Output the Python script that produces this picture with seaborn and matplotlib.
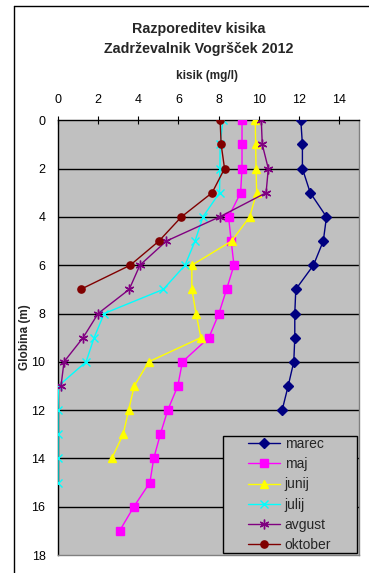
import matplotlib
matplotlib.use("Agg")
import matplotlib.pyplot as plt
from matplotlib.patches import Rectangle
from matplotlib.lines import Line2D
import seaborn as sns
import pandas as pd

# ---- data ----
months = ["marec", "maj", "junij", "julij", "avgust", "oktober"]
marec = [12.1, 12.18, 12.18, 12.57, 13.38, 13.22, 12.73, 11.85, 11.8, 11.8, 11.75, 11.47, 11.17]
maj = [9.17, 9.17, 9.17, 9.1, 8.5, 8.63, 8.77, 8.4, 8.02, 7.52, 6.2, 5.97, 5.47, 5.1, 4.77, 4.58, 3.78, 3.07]
junij = [9.83, 9.85, 9.87, 9.9, 9.55, 8.65, 6.67, 6.67, 6.88, 7.12, 4.52, 3.8, 3.52, 3.25, 2.68]
julij = [8.22, 8.08, 8.07, 8.05, 7.22, 6.83, 6.33, 5.25, 2.3, 1.8, 1.4, 0.02, 0.0, 0.0, 0.0, 0.0]
avgust = [10.13, 10.18, 10.48, 10.37, 8.05, 5.4, 4.08, 3.55, 2.0, 1.25, 0.3, 0.15]
oktober = [8.08, 8.13, 8.3, 7.68, 6.15, 5.03, 3.6, 1.13]
series = [marec, maj, junij, julij, avgust, oktober]

xticks = [0, 2, 4, 6, 8, 10, 12, 14]
yticks = [0, 2, 4, 6, 8, 10, 12, 14, 16, 18]

rows = []
for m, vals in zip(months, series):
    for d, v in enumerate(vals):
        rows.append({"mesec": m, "globina": d, "kisik": v})
df = pd.DataFrame(rows)

colors = {"marec": "#000080", "maj": "#FF00FF", "junij": "#FFFF00",
          "julij": "#00FFFF", "avgust": "#800080", "oktober": "#800000"}
markers = {"marec": "D", "maj": "s", "junij": "^", "julij": "x",
           "avgust": (6, 2, 0), "oktober": "o"}
msizes = {"marec": 4.6, "maj": 5.2, "junij": 5.8, "julij": 6, "avgust": 7, "oktober": 5.2}

sns.set_style("white")
plt.rcParams["font.family"] = ["Liberation Sans", "DejaVu Sans"]

W, H = 369, 573
fig = plt.figure(figsize=(W / 100, H / 100), dpi=100)
L, R, T, B = 58, 359, 120.3, 555
ax = fig.add_axes([L / W, 1 - B / H, (R - L) / W, (B - T) / H])
ax.set_facecolor("#C0C0C0")

sns.lineplot(data=df, x="kisik", y="globina", hue="mesec",
             hue_order=months, palette=colors, orient="y", estimator=None,
             linewidth=1.0, legend=False, ax=ax)

lines = ax.get_lines()[:len(months)]
for ln, m in zip(lines, months):
    ln.set_marker(markers[m])
    ln.set_markeredgecolor(colors[m])
    ln.set_markerfacecolor(colors[m])
    ln.set_markersize(msizes[m])
    ln.set_markeredgewidth(1.0)
    ln.set_zorder(3)

ax.set_xlim(0, 15)
ax.set_ylim(18, 0)
ax.set_xticks(xticks)
ax.set_yticks(yticks)
ax.xaxis.tick_top()
ax.tick_params(axis="x", direction="inout", length=6, width=0.8, pad=7,
               labelsize=9, colors="black")
ax.tick_params(axis="y", direction="out", length=4, width=0.8, pad=5,
               labelsize=9, colors="black")
ax.set_xlabel("")
ax.set_ylabel("")
for y in yticks[1:-1]:
    ax.axhline(y, color="black", lw=1.0, zorder=1)

for s in ["top", "left"]:
    ax.spines[s].set_color("black")
    ax.spines[s].set_linewidth(1.0)
for s in ["bottom", "right"]:
    ax.spines[s].set_color("#808080")
    ax.spines[s].set_linewidth(1.0)

# legend box
bx0, bx1, by0, by1 = 222.7, 356.7, 435.7, 553.3
rect = Rectangle(((bx0 - L) / (R - L), (B - by1) / (B - T)),
                 (bx1 - bx0) / (R - L), (by1 - by0) / (B - T),
                 transform=ax.transAxes, facecolor="#C0C0C0",
                 edgecolor="black", lw=1.0, zorder=5)
ax.add_patch(rect)
leg = ax.legend(lines, months, loc="center",
                bbox_to_anchor=(((bx0 + bx1) / 2 - L) / (R - L),
                                (B - (by0 + by1) / 2) / (B - T)),
                frameon=False, fontsize=10, handlelength=2.3,
                handletextpad=0.35, labelspacing=0.45, borderpad=0.2)
leg.set_zorder(6)

# texts
fig.text(199 / W, 1 - 29 / H, "Razporeditev kisika", ha="center", va="center",
         fontsize=10.3, fontweight="bold")
fig.text(199 / W, 1 - 49 / H, "Zadrževalnik Vogršček 2012", ha="center",
         va="center", fontsize=10.3, fontweight="bold")
fig.text(207 / W, 1 - 76 / H, "kisik (mg/l)", ha="center", va="center",
         fontsize=8.5, fontweight="bold")
fig.text(25 / W, 1 - 337 / H, "Globina (m)", ha="center", va="center",
         fontsize=8.5, fontweight="bold", rotation=90)

# outer chart border (cropped)
fig.add_artist(Line2D([13.5 / W, 13.5 / W], [0, 1 - 5.5 / H], color="black",
                      lw=1.0, transform=fig.transFigure))
fig.add_artist(Line2D([13.5 / W, 1], [1 - 5.5 / H, 1 - 5.5 / H], color="black",
                      lw=1.0, transform=fig.transFigure))

fig.savefig("out.png", dpi=100)
